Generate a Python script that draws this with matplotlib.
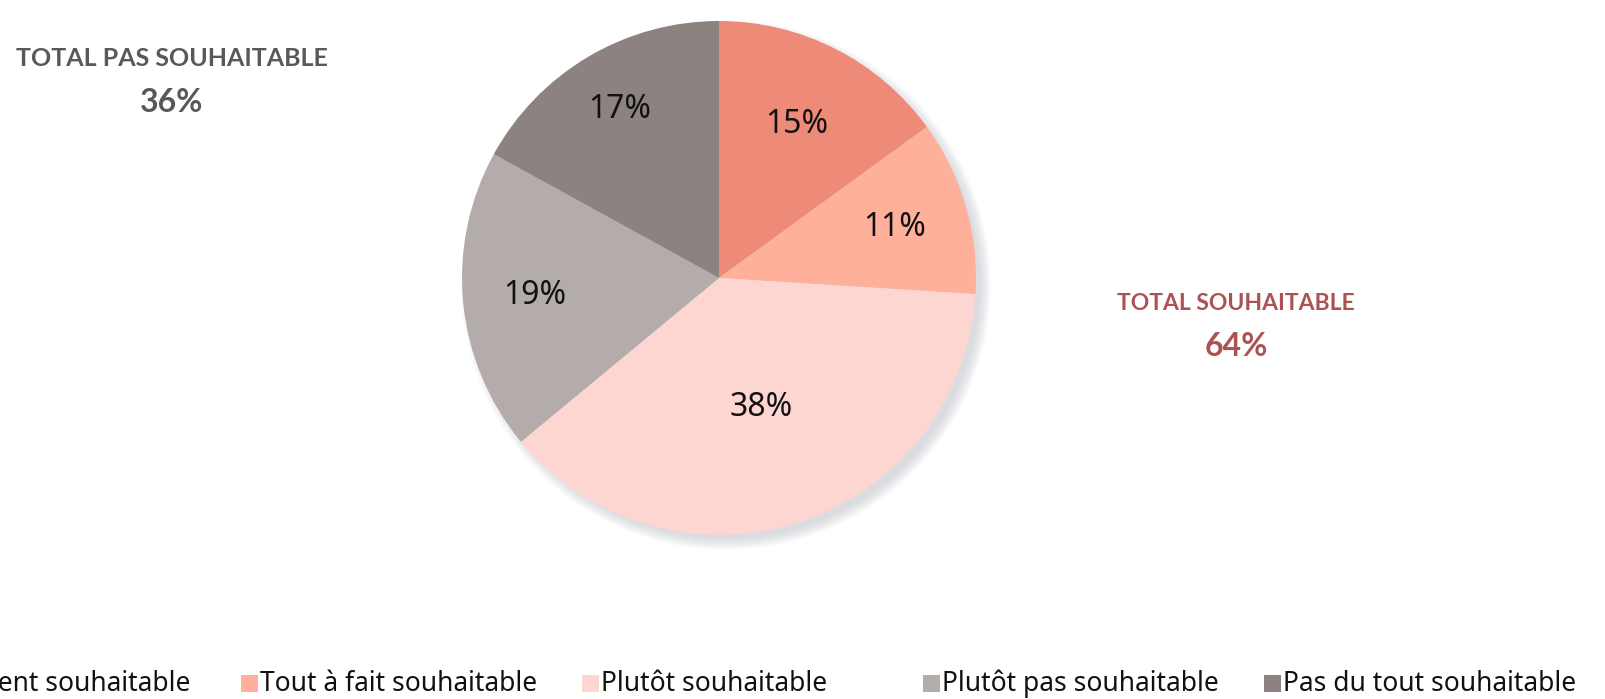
import numpy as np
import matplotlib.pyplot as plt
from matplotlib.patches import Rectangle, Circle

# answer shares, clockwise from 12 o'clock
categories = ["Absolument souhaitable", "Tout à fait souhaitable", "Plutôt souhaitable",
              "Plutôt pas souhaitable", "Pas du tout souhaitable"]
values = [15, 11, 38, 19, 17]
colors = ["#EE8A78", "#FEB09B", "#FDD6D2", "#B3ACAA", "#8C8380"]

total_yes = values[0] + values[1] + values[2]
total_no = values[3] + values[4]

W, H = 1605, 699
fig = plt.figure(figsize=(W / 100, H / 100), dpi=100)
ax = fig.add_axes([0, 0, 1, 1])

cx, cy, r = 719, H - 278, 257

# soft shadow falling to the lower right
for k in range(14):
    ax.add_patch(Circle((cx + 7, cy - 7), r + 8 - k * 0.9, color="#8f96a3",
                        alpha=0.022, lw=0, zorder=0))

wedges, texts, autotexts = ax.pie(
    values, colors=colors, startangle=90, counterclock=False,
    center=(cx, cy), radius=r, autopct="%d%%", pctdistance=0.68,
    wedgeprops=dict(linewidth=0), frame=True,
    textprops=dict(fontsize=23, color="#111111", family="Noto Sans"))

# label distance from the centre, per slice
label_r = [0.67, 0.71, 0.53, 0.72, 0.76]
for w, t, f in zip(wedges, autotexts, label_r):
    a = np.deg2rad((w.theta1 + w.theta2) / 2)
    t.set_position((cx + f * r * np.cos(a), cy + f * r * np.sin(a)))

ax.set_xlim(0, W)
ax.set_ylim(0, H)
ax.set_aspect("equal")
ax.axis("off")

# totals
grey, red = "#595959", "#AC5252"
ax.text(172, H - 59, "TOTAL PAS SOUHAITABLE", ha="center", va="center",
        fontsize=18, fontweight="bold", color=grey, family="Lato")
ax.text(172, H - 102, f"{total_no}%", ha="center", va="center",
        fontsize=23, fontweight="bold", color=grey, family="Lato")
ax.text(1236, H - 304, "TOTAL SOUHAITABLE", ha="center", va="center",
        fontsize=16.5, fontweight="bold", color=red, family="Lato")
ax.text(1236, H - 346, f"{total_yes}%", ha="center", va="center",
        fontsize=23, fontweight="bold", color=red, family="Lato")

# legend row along the bottom, equal column widths, first entry runs off the left edge
x0, step, ly = -100, 341, H - 684
for i, (name, c) in enumerate(zip(categories, colors)):
    mx = x0 + i * step
    ax.add_patch(Rectangle((mx, ly - 8), 17, 17, color=c, lw=0, clip_on=False))
    if i == 0:
        ax.text(190, ly, name, ha="right", va="center", fontsize=19,
                color="#111111", family="Noto Sans")
    else:
        ax.text(mx + 19, ly, name, ha="left", va="center", fontsize=19,
                color="#111111", family="Noto Sans")

fig.savefig("out.png", dpi=100, facecolor="white")
